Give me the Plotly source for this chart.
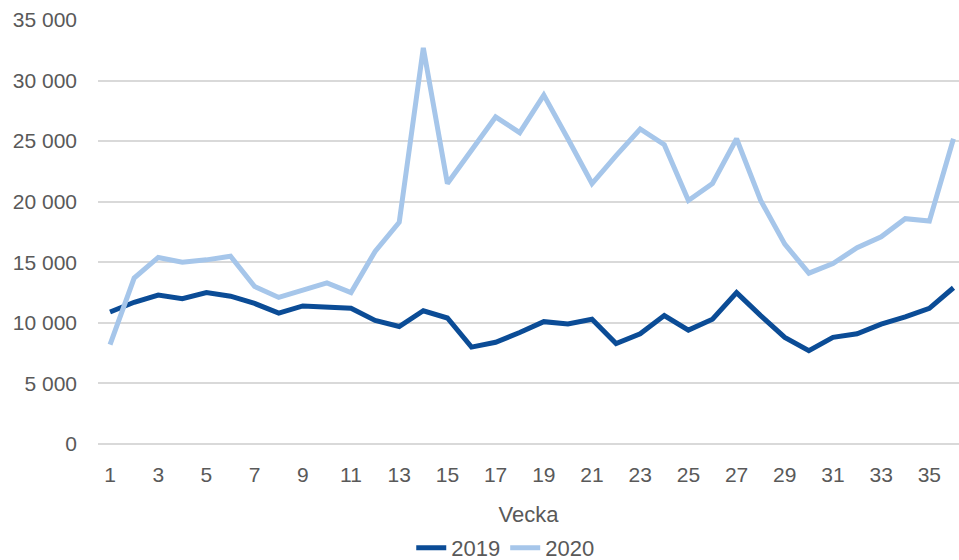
import plotly.graph_objects as go

# Veckonummer
weeks = list(range(1, 37))

# Värden per vecka
values_2019 = [10900, 11700, 12300, 12000, 12500, 12200, 11600, 10800, 11400, 11300,
               11200, 10200, 9700, 11000, 10400, 8000, 8400, 9200, 10100, 9900,
               10300, 8300, 9100, 10600, 9400, 10300, 12500, 10600, 8800, 7700,
               8800, 9100, 9900, 10500, 11200, 12900]
values_2020 = [8200, 13700, 15400, 15000, 15200, 15500, 13000, 12100, 12700, 13300,
               12500, 15900, 18300, 32700, 21500, 24200, 27000, 25700, 28800, 25200,
               21500, 23800, 26000, 24700, 20100, 21500, 25200, 20100, 16500, 14100,
               14900, 16200, 17100, 18600, 18400, 25200]

x_ticks = list(range(1, 36, 2))
y_ticks = list(range(0, 35001, 5000))

fig = go.Figure()
fig.add_trace(go.Scatter(
    x=weeks, y=values_2019, mode='lines', name='2019',
    line=dict(color='#0B4C96', width=5)
))
fig.add_trace(go.Scatter(
    x=weeks, y=values_2020, mode='lines', name='2020',
    line=dict(color='#A6C6EA', width=5)
))

font_family = 'Liberation Sans, Arial, sans-serif'

fig.update_layout(
    width=959, height=560,
    margin=dict(l=98, r=0, t=20, b=116, autoexpand=False),
    plot_bgcolor='white', paper_bgcolor='white',
    separators=', ',
    font=dict(family=font_family, size=21, color='#595959'),
    showlegend=True,
    legend=dict(orientation='h', x=0.473, xanchor='center', y=-0.245, yanchor='middle',
                font=dict(size=22, color='#595959')),
    xaxis=dict(
        range=[0.5, 36.23], tickvals=x_ticks, ticktext=[str(t) for t in x_ticks],
        showgrid=False, zeroline=False, showline=False, ticks='',
        ticklabelstandoff=16, automargin=False,
        title=dict(text='Vecka', font=dict(size=22, color='#595959'), standoff=21),
    ),
    yaxis=dict(
        range=[0, 35000], tickvals=y_ticks, tickformat=',d',
        showgrid=True, gridcolor='#D9D9D9', gridwidth=1.5,
        zeroline=True, zerolinecolor='#D9D9D9', zerolinewidth=1.5,
        showline=False, ticks='', ticklabelstandoff=20,
        automargin=False,
    ),
)

# ta bort webbläsarens standardmarginal runt diagrammet
fig.write_html("out.html", config={'displayModeBar': False},
               post_script="document.body.style.margin='0';")
